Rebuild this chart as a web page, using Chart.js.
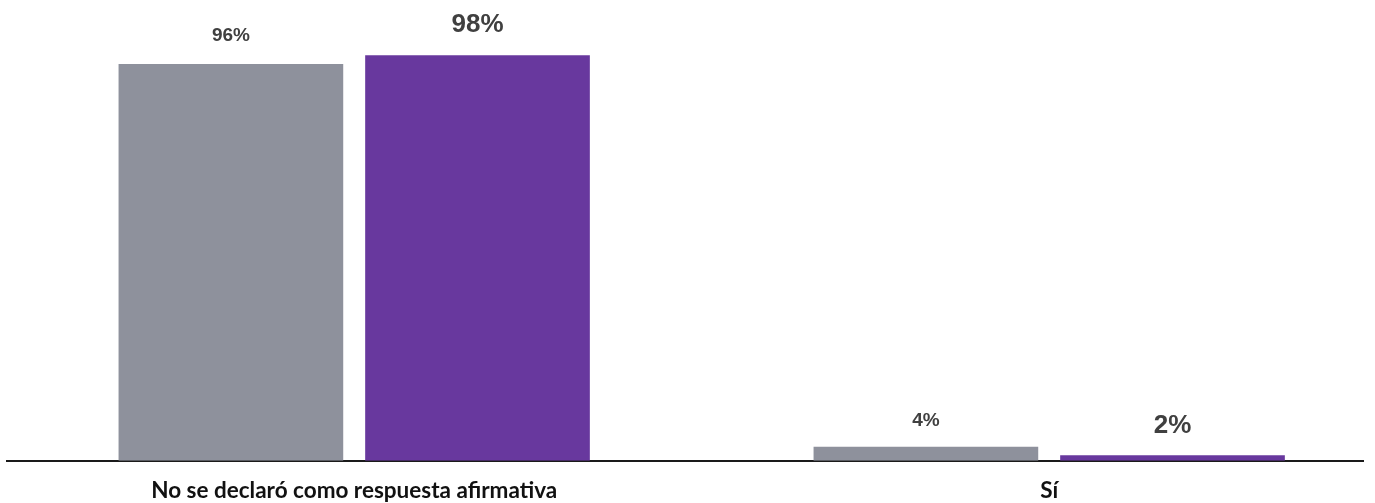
<!DOCTYPE html>
<html>
<head>
<meta charset="utf-8">
<script src="https://cdn.jsdelivr.net/npm/chart.js@4.4.0/dist/chart.umd.min.js"></script>
<style>
  html, body { margin: 0; padding: 0; background: #ffffff; }
  #wrap { width: 1375px; height: 503px; position: relative; }
</style>
</head>
<body>
<div id="wrap"><canvas id="c"></canvas></div>
<script>
// Categories (x axis)
const categories = ['No se declaró como respuesta afirmativa', 'Sí'];
// Series values (percent)
const seriesGray = [96.6, 3.4];
const seriesPurple = [98.7, 1.3];
// Displayed value labels
const labelsGray = ['96%', '4%'];
const labelsPurple = ['98%', '2%'];

const GRAY = '#8e919c';
const PURPLE = '#68389e';

const valueLabelPlugin = {
  id: 'valueLabels',
  afterDatasetsDraw(chart) {
    const ctx = chart.ctx;
    chart.data.datasets.forEach((ds, di) => {
      const meta = chart.getDatasetMeta(di);
      meta.data.forEach((el, i) => {
        ctx.save();
        ctx.fillStyle = '#404040';
        ctx.font = 'bold ' + ds.labelSize + 'px "Liberation Sans", Arial, sans-serif';
        ctx.textAlign = 'center';
        ctx.textBaseline = 'alphabetic';
        ctx.fillText(ds.valueLabels[i], el.x, el.y - ds.labelGap[i]);
        ctx.restore();
      });
    });
  }
};

new Chart(document.getElementById('c'), {
  type: 'bar',
  data: {
    datasets: [
      {
        label: 'A',
        data: seriesGray.map((v, i) => ({ x: i, y: v })),
        backgroundColor: GRAY,
        valueLabels: labelsGray,
        labelSize: 19,
        labelGap: [23, 21]
      },
      {
        label: 'B',
        data: seriesPurple.map((v, i) => ({ x: i, y: v })),
        backgroundColor: PURPLE,
        valueLabels: labelsPurple,
        labelSize: 26,
        labelGap: [23, 22]
      }
    ]
  },
  options: {
    responsive: true,
    maintainAspectRatio: false,
    animation: false,
    layout: { padding: { left: 7, right: 12, top: 50, bottom: -10 } },
    categoryPercentage: 0.7097,
    barPercentage: 0.911,
    plugins: {
      legend: { display: false },
      tooltip: { enabled: false }
    },
    scales: {
      x: {
        type: 'linear',
        offset: false,
        min: -0.49957,
        max: 1.45151,
        grid: { display: false },
        border: { display: true, color: '#1a1a1a', width: 2 },
        ticks: {
          stepSize: 1,
          includeBounds: false,
          autoSkip: false,
          maxRotation: 0,
          padding: 16,
          color: '#111111',
          font: { family: 'Lato', weight: 'bold', size: 22.5, lineHeight: 0.55 },
          callback: (v) => (Number.isInteger(v) && categories[v] !== undefined) ? categories[v] : ''
        }
      },
      y: {
        display: false,
        min: 0,
        max: 100
      }
    }
  },
  plugins: [valueLabelPlugin]
});
</script>
</body>
</html>
